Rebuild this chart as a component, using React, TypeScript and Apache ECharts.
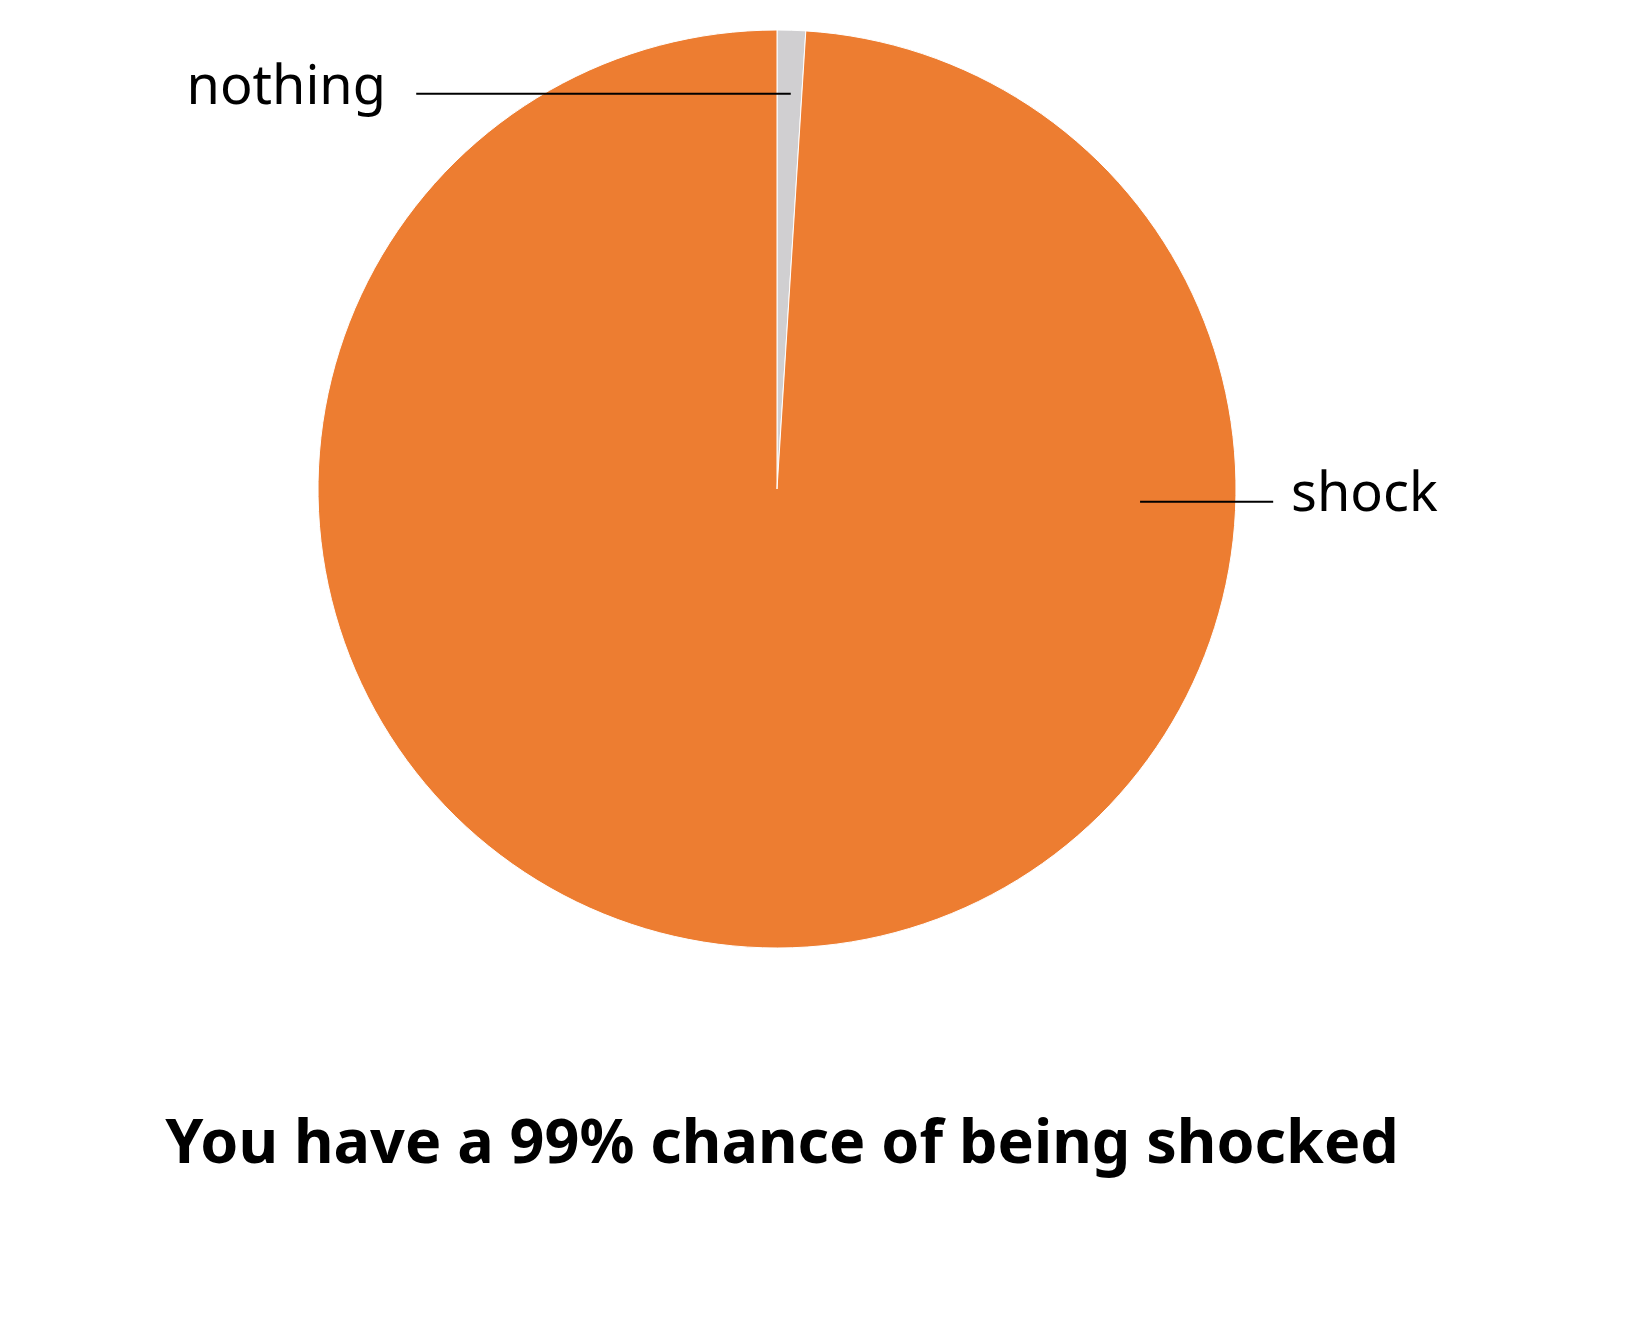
import React, { useEffect, useRef } from "react";
import * as echarts from "echarts";

const categories = ["nothing", "shock"];
const values = [1, 99];
const colors = ["#D0CFD1", "#ED7D31"];
const titleText = "You have a 99% chance of being shocked";

export default function App() {
  const ref = useRef<HTMLDivElement>(null);
  useEffect(() => {
    document.body.style.margin = "0";
    const chart = echarts.init(ref.current!, null, { renderer: "svg" });
    const cx = 777;
    const cy = 489;
    const r = 459;
    const data = categories.map((name, i) => ({
      name,
      value: values[i],
      itemStyle: { color: colors[i] },
    }));
    chart.setOption({
      animation: false,
      backgroundColor: "#ffffff",
      title: {
        text: titleText,
        left: cx,
        textAlign: "center",
        top: 1104,
        textStyle: {
          fontFamily: "Noto Sans",
          fontWeight: "bold",
          fontSize: 61,
          color: "#000000",
        },
      },
      series: [
        {
          type: "pie",
          z: 2,
          center: [cx, cy],
          radius: r,
          startAngle: 90,
          clockwise: true,
          data,
          itemStyle: { borderColor: "#ffffff", borderWidth: 1 },
          label: { show: false },
          labelLine: { show: false },
          silent: true,
        },
        {
          type: "pie",
          z: 5,
          center: [cx, cy],
          radius: r,
          startAngle: 90,
          clockwise: true,
          silent: true,
          data: categories.map((name, i) => ({ name, value: values[i] })),
          itemStyle: { color: "rgba(0,0,0,0)", borderWidth: 0 },
          label: {
            show: true,
            formatter: "{b}",
            fontFamily: "Noto Sans",
            fontSize: 54,
            color: "#000000",
          },
          labelLine: {
            show: true,
            lineStyle: { color: "#000000", width: 2 },
          },
          labelLayout: (params: any) => {
            if (params.dataIndex === 0) {
              return {
                x: cx - 0.852 * r,
                y: cy - 0.884 * r,
                align: "right",
                verticalAlign: "middle",
                labelLinePoints: [
                  [cx + 0.03 * r, cy - 0.861 * r],
                  [cx - 0.4 * r, cy - 0.861 * r],
                  [cx - 0.786 * r, cy - 0.861 * r],
                ],
              };
            }
            return {
              x: cx + 1.12 * r,
              y: cy + 0.002 * r,
              align: "left",
              verticalAlign: "middle",
              labelLinePoints: [
                [cx + 0.791 * r, cy + 0.028 * r],
                [cx + 0.95 * r, cy + 0.028 * r],
                [cx + 1.081 * r, cy + 0.028 * r],
              ],
            };
          },
        },
      ],
    });
    return () => chart.dispose();
  }, []);
  return <div ref={ref} style={{ width: 1627, height: 1329 }} />;
}
